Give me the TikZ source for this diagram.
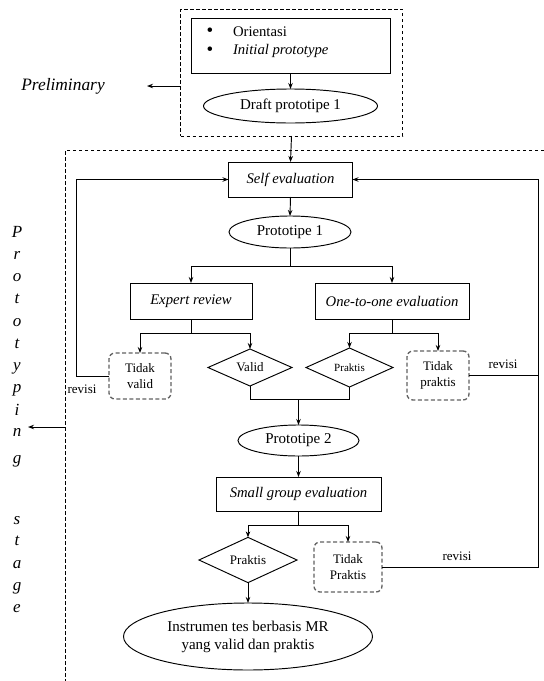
\documentclass[tikz,border=0pt]{standalone}
\usepackage{fontspec}
\setmainfont{Liberation Serif}
\usetikzlibrary{shapes.geometric,arrows.meta}
\begin{document}
\begin{tikzpicture}[x=1pt,y=-1pt,
  every node/.style={inner sep=0pt, outer sep=0pt},
  line/.style={line width=0.95pt, black},
  arr/.style={line, -{Stealth[length=6pt,width=4.5pt]}},
  solidbox/.style={draw, line width=0.95pt, rectangle, font=\fontsize{14.7}{17}\selectfont\itshape},
  oval/.style={draw, ellipse, line width=0.95pt, font=\fontsize{15}{18}\selectfont, align=center},
  dia/.style={draw, diamond, line width=0.95pt},
  nobox/.style={draw=black!62, dash pattern=on 4pt off 2.5pt, line width=1.3pt, rounded corners=6pt, font=\fontsize{13}{16}\selectfont, align=center},
  framebox/.style={draw, dash pattern=on 3.5pt off 2.5pt, line width=0.95pt},
  lab/.style={font=\fontsize{13}{15}\selectfont},
  vlet/.style={font=\fontsize{17}{17}\selectfont\itshape, anchor=base},
]
\useasboundingbox (0,0) rectangle (544,681);

% ---------- Preliminary ----------
\node[framebox, minimum width=222pt, minimum height=127pt] (pbox) at (291.5,72.5) {};
\node[font=\fontsize{17.4}{20}\selectfont\itshape] (prelim) at (63,86) {Preliminary};
\coordinate (prelimend) at (147,86);
\draw[arr] (pbox.west |- prelimend) -- (prelimend);

\node[draw, line width=0.95pt, minimum width=199pt, minimum height=55pt] (intro) at (290.5,45.5) {};
\node[font=\fontsize{19}{20}\selectfont] (b1) at (210,32) {\textbullet};
\node[font=\fontsize{19}{20}\selectfont] (b2) at (210,51) {\textbullet};
\node[anchor=west, font=\fontsize{14.7}{17}\selectfont] (t1) at (233,32) {Orientasi};
\node[anchor=west, font=\fontsize{14.7}{17}\selectfont\itshape] (t2) at (233,51) {Initial prototype};

\node[oval, minimum width=174pt, minimum height=34pt] (draft) at (290.5,106) {Draft prototipe 1};
\draw[arr] (intro.south) -- (draft.north);

% ---------- Prototyping stage frame ----------
\coordinate (frtl) at (65,150);
\draw[framebox] (544,150) -- (frtl) -- (65,681);
\coordinate (protoend) at (28,427);
\draw[arr] (frtl |- protoend) -- (protoend);

\node[vlet] (l1) at (17,237) {P};
\node[vlet] (l2) at (17,259) {r};
\node[vlet] (l3) at (17,281) {o};
\node[vlet] (l4) at (17,303) {t};
\node[vlet] (l5) at (17,326) {o};
\node[vlet] (l6) at (17,348) {t};
\node[vlet] (l7) at (17,370) {y};
\node[vlet] (l8) at (17,392) {p};
\node[vlet] (l9) at (17,415) {i};
\node[vlet] (l10) at (17,436) {n};
\node[vlet] (l11) at (17,463) {g};
\node[vlet] (l12) at (17,524) {s};
\node[vlet] (l13) at (17,545) {t};
\node[vlet] (l14) at (17,568) {a};
\node[vlet] (l15) at (17,590) {g};
\node[vlet] (l16) at (17,612) {e};

% ---------- Main flow ----------
\node[solidbox, minimum width=124pt, minimum height=35pt] (self) at (290.5,179.5) {Self evaluation};
\draw[arr] (pbox.south) -- (self.north);

\node[oval, minimum width=122pt, minimum height=32pt] (p1) at (290,232) {Prototipe 1};
\draw[arr] (self.south) -- (p1.north);

\node[solidbox, minimum width=122pt, minimum height=36pt] (expert) at (191,301) {Expert review};
\node[solidbox, minimum width=154pt, minimum height=36pt] (one) at (392,301) {One-to-one evaluation};
\coordinate (j1) at (290,266);
\draw[line] (p1.south) -- (j1);
\draw[arr] (j1) -| (expert.north);
\draw[arr] (j1) -| (one.north);

\node[nobox, minimum width=62pt, minimum height=46pt] (tv) at (140,376) {Tidak\\valid};
\node[dia, minimum width=84pt, minimum height=37pt, font=\fontsize{13}{15}\selectfont] (valid) at (250,367.5) {Valid};
\coordinate (j2) at (191,333);
\draw[line] (expert.south) -- (j2);
\draw[arr] (j2) -| (tv.north);
\draw[arr] (j2) -| (valid.north);

\node[dia, minimum width=87pt, minimum height=39pt, font=\fontsize{11}{13}\selectfont] (pr1) at (349.5,367.5) {Praktis};
\node[nobox, minimum width=62pt, minimum height=49pt] (tp) at (438,375.5) {Tidak\\praktis};
\coordinate (j3) at (392,333);
\draw[line] (one.south) -- (j3);
\draw[arr] (j3) -| (pr1.north);
\draw[arr] (j3) -| (tp.north);

\node[oval, minimum width=121pt, minimum height=31pt] (p2) at (298.5,440.5) {Prototipe 2};
\coordinate (j4) at (298.5,399);
\draw[line] (valid.south) |- (j4);
\draw[line] (pr1.south) |- (j4);
\draw[arr] (j4) -- (p2.north);

\node[solidbox, minimum width=165pt, minimum height=34pt] (sg) at (298.5,494) {Small group evaluation};
\draw[arr] (p2.south) -- (sg.north);

\node[dia, minimum width=98pt, minimum height=36pt, font=\fontsize{13}{15}\selectfont] (pr2) at (248,560) {Praktis};
\node[nobox, minimum width=68pt, minimum height=50pt] (tp2) at (348,567) {Tidak\\Praktis};
\coordinate (j5) at (298.5,525);
\draw[line] (sg.south) -- (j5);
\draw[arr] (j5) -| (pr2.north);
\draw[arr] (j5) -| (tp2.north);

\node[oval, minimum width=249pt, minimum height=67pt] (final) at (248,636.5) {Instrumen tes berbasis MR\\yang valid dan praktis};
\draw[arr] (pr2.south) -- (final.north);

% ---------- Revision loops ----------
\coordinate (lloop) at (76,181);
\coordinate (rloop) at (538,181);
\draw[arr] (tv.west) -- (tv.west -| lloop) -- (self.west -| lloop) -- (self.west);
\draw[arr] (tp.east) -- (tp.east -| rloop) -- (self.east -| rloop) -- (self.east);
\draw[line] (tp2.east) -- (tp2.east -| rloop) -- (tp.east -| rloop);

\node[lab] (rev1) at (82,389) {revisi};
\node[lab] (rev2) at (503,364) {revisi};
\node[lab] (rev3) at (457,556) {revisi};
\end{tikzpicture}
\end{document}
